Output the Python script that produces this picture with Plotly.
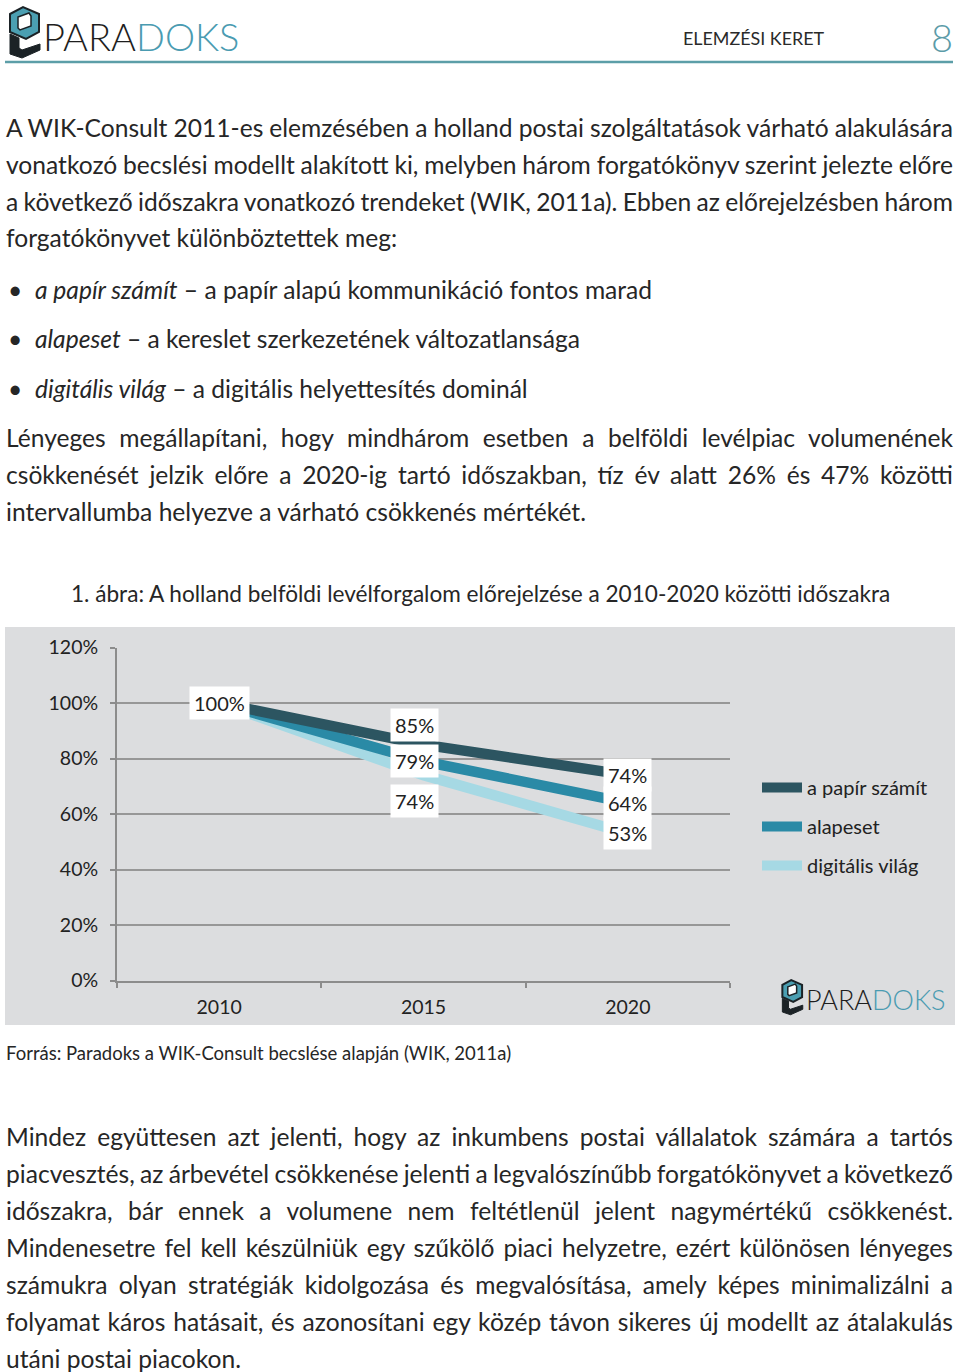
import json
import plotly.graph_objects as go

# ---------------- data ----------------
years = ["2010", "2015", "2020"]
series_names = ["a papír számít", "alapeset", "digitális világ"]
papir_szamit = [1.00, 0.85, 0.74]
alapeset = [1.00, 0.79, 0.64]
digitalis_vilag = [1.00, 0.74, 0.53]
y_tick_vals = [0, 0.2, 0.4, 0.6, 0.8, 1.0, 1.2]

series_colors = ["#2c5561", "#2a8aa6", "#a6d9e4"]

header_title = "ELEMZÉSI KERET"
page_number = "8"
caption = "1. ábra: A holland belföldi levélforgalom előrejelzése a 2010-2020 közötti időszakra"
source = "Forrás: Paradoks a WIK-Consult becslése alapján (WIK, 2011a)"

para1 = [
    "A WIK-Consult 2011-es elemzésében a holland postai szolgáltatások várható alakulására",
    "vonatkozó becslési modellt alakított ki, melyben három forgatókönyv szerint jelezte előre",
    "a következő időszakra vonatkozó trendeket (WIK, 2011a). Ebben az előrejelzésben három",
    "forgatókönyvet különböztettek meg:",
]
bullets = [
    ("a papír számít", " – a papír alapú kommunikáció fontos marad"),
    ("alapeset", " – a kereslet szerkezetének változatlansága"),
    ("digitális világ", " – a digitális helyettesítés dominál"),
]
para2 = [
    "Lényeges megállapítani, hogy mindhárom esetben a belföldi levélpiac volumenének",
    "csökkenését jelzik előre a 2020-ig tartó időszakban, tíz év alatt 26% és 47% közötti",
    "intervallumba helyezve a várható csökkenés mértékét.",
]
para3 = [
    "Mindez együttesen azt jelenti, hogy az inkumbens postai vállalatok számára a tartós",
    "piacvesztés, az árbevétel csökkenése jelenti a legvalószínűbb forgatókönyvet a következő",
    "időszakra, bár ennek a volumene nem feltétlenül jelent nagymértékű csökkenést.",
    "Mindenesetre fel kell készülniük egy szűkölő piaci helyzetre, ezért különösen lényeges",
    "számukra olyan stratégiák kidolgozása és megvalósítása, amely képes minimalizálni a",
    "folyamat káros hatásait, és azonosítani egy közép távon sikeres új modellt az átalakulás",
    "utáni postai piacokon.",
]

# ---------------- helpers ----------------
W, H = 960, 1372
FONT = "Lato"
TXT = "#262626"
BODY = 24.6


def px(x):
    return x / W


def py(y):
    return 1 - y / H


fig = go.Figure()

# traces: light first, dark last (dark on top)
all_series = [papir_szamit, alapeset, digitalis_vilag]
for i in [2, 1, 0]:
    fig.add_trace(go.Scatter(
        x=years, y=all_series[i], mode="lines", name=series_names[i],
        line=dict(color=series_colors[i], width=10.5),
        legendgroup=series_names[i], legendrank=i + 1,
        hoverinfo="skip",
    ))

annotations = []
shapes = []

# data labels (x given as category index on the category axis)
label_specs = [
    (0, 0, 0, 0),      # 100% (all series coincide)
    (0, 1, 20, -9), (1, 1, 0, -9), (2, 1, -26, -9),
    (0, 2, 0, 0), (1, 2, 0, 0), (2, 2, 0, 0),
]
for s, k, ys, xs in label_specs:
    v = all_series[s][k]
    annotations.append(dict(
        x=k, y=v, xref="x", yref="y", text=f"{v:.0%}", showarrow=False,
        bgcolor="white", borderpad=4, font=dict(family=FONT, size=20, color="#222"),
        yshift=ys, xshift=xs,
    ))


def add_text(text, x, y, size=BODY, anchor="left", color=TXT, weight=None):
    f = dict(family=FONT, size=size, color=color)
    if weight:
        f["weight"] = weight
    annotations.append(dict(
        x=px(x), y=py(y), xref="paper", yref="paper", text=text, showarrow=False,
        xanchor=anchor, yanchor="middle", align="left" if anchor == "left" else anchor,
        font=f, borderpad=0, borderwidth=0,
    ))


# header
add_text('<span style="color:#1e1e1e">PARA</span><span style="color:#4a9bb1">DOKS</span>',
         43, 36, size=38, weight=300)
add_text(header_title, 754, 38, size=17.9, anchor="center", color="#2a2a2a")
add_text(page_number, 942, 37, size=38, anchor="center", color="#5b9ba8", weight=300)
shapes.append(dict(type="line", xref="paper", yref="paper", x0=px(5), x1=px(953),
                   y0=py(62), y1=py(62), line=dict(color="#5c9ea8", width=2.5)))


def logo_icon(ox, oy, s):
    def pth(points):
        return "M " + " L ".join(f"{px(ox + a * s)},{py(oy + b * s)}" for a, b in points) + " Z"
    dark = "#1b2226"
    shapes.append(dict(type="path", xref="paper", yref="paper",
                       path=pth([(2, 30), (2, 50), (14, 54), (32, 46), (32, 40), (14, 46), (11, 44), (11, 34)]),
                       fillcolor=dark, line=dict(color=dark, width=1)))
    shapes.append(dict(type="path", xref="paper", yref="paper",
                       path=pth([(2, 10), (15, 3), (31, 10), (31, 28), (18, 35), (2, 28)]),
                       fillcolor="#4b9fb2", line=dict(color=dark, width=2)))
    shapes.append(dict(type="path", xref="paper", yref="paper",
                       path=pth([(10, 13), (21, 9), (23, 12), (23, 22), (12, 26), (10, 24)]),
                       fillcolor="white", line=dict(color=dark, width=1.5)))


logo_icon(8, 4, 1.0)

# paragraph 1
for i, line in enumerate(para1):
    add_text(line, 6, 127 + 37 * i)
# bullets
for i, (it, rest) in enumerate(bullets):
    yy = 289 + 49.5 * i
    add_text("•", 8, yy)
    add_text(f"<i>{it}</i>{rest}", 35, yy)
# paragraph 2
for i, line in enumerate(para2):
    add_text(line, 6, 437 + 37.3 * i)
# caption
add_text(caption, 480, 594, size=22.6, anchor="center")
# chart box background
shapes.append(dict(type="rect", xref="paper", yref="paper", x0=px(5), x1=px(955),
                   y0=py(1025), y1=py(627), fillcolor="#dcdddf", line=dict(width=0), layer="below"))
# chart logo
logo_icon(781, 978, 0.68)
add_text('<span style="color:#1e1e1e">PARA</span><span style="color:#4a9bb1">DOKS</span>',
         806, 1000, size=27, weight=300)
# source
add_text(source, 6, 1053, size=18.5)
# paragraph 3
for i, line in enumerate(para3):
    add_text(line, 6, 1136 + 37 * i)

justified = para1[:3] + para2[:2] + para3[:6]

fig.update_layout(
    width=W, height=H, autosize=False,
    margin=dict(l=0, r=0, t=0, b=0, autoexpand=False),
    paper_bgcolor="white", plot_bgcolor="rgba(0,0,0,0)",
    font=dict(family=FONT, color=TXT),
    showlegend=True,
    legend=dict(x=px(757), y=py(826.5), xanchor="left", yanchor="middle",
                bgcolor="rgba(0,0,0,0)", font=dict(family=FONT, size=20, color="#222"),
                tracegroupgap=10, traceorder="grouped", itemwidth=40),
    xaxis=dict(domain=[px(117), px(730)], type="category", range=[-0.5, 2.5],
               tickson="boundaries", automargin=False, ticklabelstandoff=8,
               ticks="outside", ticklen=5, tickcolor="#8c8c8c", tickwidth=2,
               showline=True, linecolor="#8c8c8c", linewidth=2, showgrid=False,
               tickfont=dict(family=FONT, size=19.5, color="#222"), fixedrange=True),
    yaxis=dict(domain=[py(980.5), py(647.5)], range=[0, 1.2], tickvals=y_tick_vals,
               tickformat=".0%", ticks="outside", ticklen=5, tickcolor="#8c8c8c", tickwidth=2,
               showline=True, linecolor="#8c8c8c", linewidth=2, showgrid=True, automargin=False,
               gridcolor="#979797", gridwidth=2, zeroline=False, ticklabelstandoff=8,
               tickfont=dict(family=FONT, size=19.5, color="#222"), fixedrange=True),
    annotations=annotations, shapes=shapes,
)

post = """
(function(){
document.body.style.margin = '0';
var gd = document.getElementById('{plot_id}');
var T = %s;
function just(){
  var g0 = gd.getBoundingClientRect().left;
  gd.querySelectorAll('text.annotation-text').forEach(function(t){
    var k = t.textContent;
    if (T.indexOf(k) >= 0) {
      t.style.wordSpacing = '0px';
      var n = (k.match(/ /g) || []).length;
      var w = t.getComputedTextLength();
      var left = t.getBoundingClientRect().left - g0;
      if (n > 0) { t.style.wordSpacing = ((953 - left - w) / n) + 'px'; }
    }
  });
}
just();
if (gd.on) { gd.on('plotly_afterplot', just); }
})();
""" % json.dumps(justified)

fig.write_html("out.html", post_script=post, config={"displayModeBar": False})
